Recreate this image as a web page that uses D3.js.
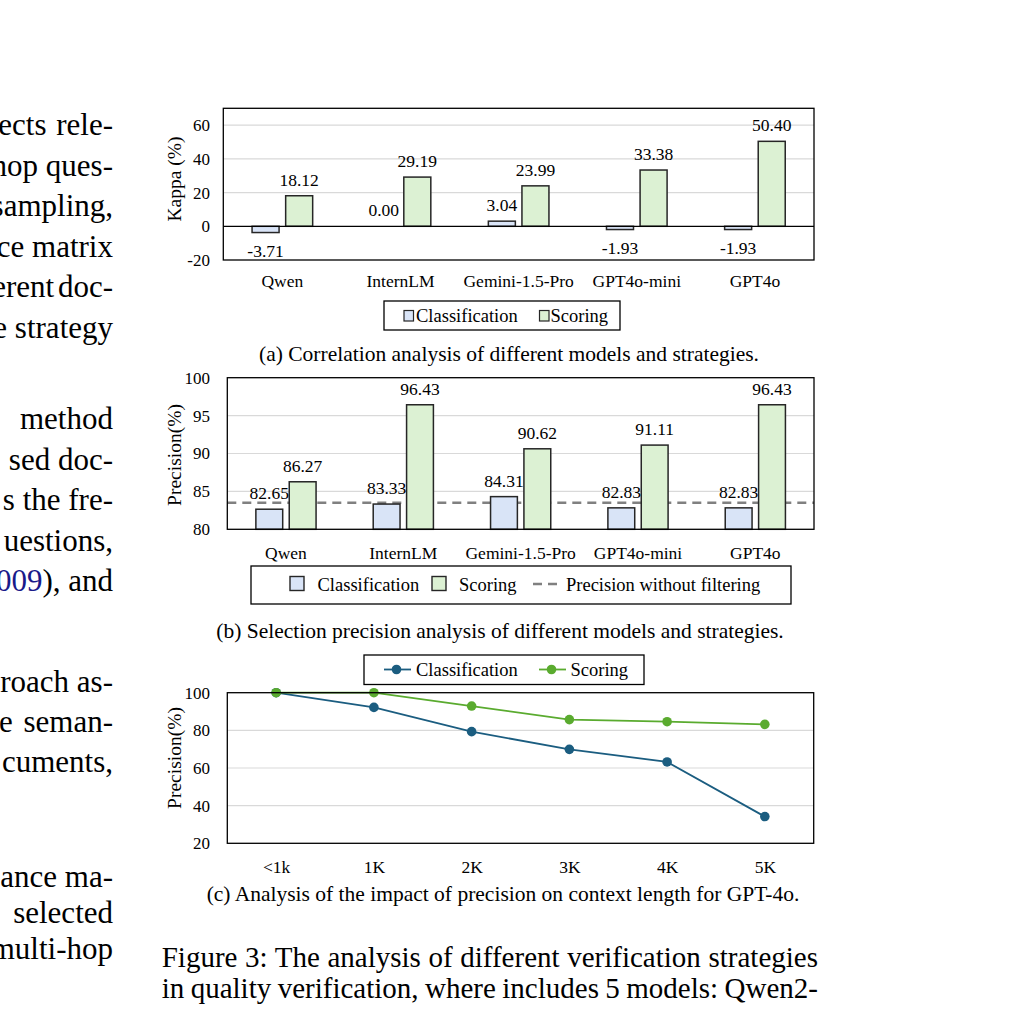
<!DOCTYPE html>
<html><head><meta charset="utf-8">
<script src="https://cdn.jsdelivr.net/npm/d3@7"></script>
<style>html,body{margin:0;padding:0;background:#fff;overflow:hidden}</style>
</head><body>
<svg id="c" width="1031" height="1015"></svg>
<script>
// ---------- data ----------
const models = ["Qwen", "InternLM", "Gemini-1.5-Pro", "GPT4o-mini", "GPT4o"];
const seriesNames = ["Classification", "Scoring"];
const kappaClassification = [-3.71, 0.00, 3.04, -1.93, -1.93];
const kappaScoring = [18.12, 29.19, 23.99, 33.38, 50.40];
const kappaTicks = [-20, 0, 20, 40, 60];
const precisionClassification = [82.65, 83.33, 84.31, 82.83, 82.83];
const precisionScoring = [86.27, 96.43, 90.62, 91.11, 96.43];
const precisionWithoutFiltering = 83.5;
const precisionTicks = [80, 85, 90, 95, 100];
const contextLengths = ["<1k", "1K", "2K", "3K", "4K", "5K"];
const contextClassification = [100, 92.2, 79.3, 69.9, 63.2, 34.2];
const contextScoring = [100, 100, 92.9, 85.7, 84.6, 83.2];
const contextTicks = [20, 40, 60, 80, 100];
const subCaptions = [
  "(a) Correlation analysis of different models and strategies.",
  "(b) Selection precision analysis of different models and strategies.",
  "(c) Analysis of the impact of precision on context length for GPT-4o."
];
const figureCaption = [
  "Figure 3: The analysis of different verification strategies",
  "in quality verification, where includes 5 models: Qwen2-"
];
const bodyLines = ["ects rele-", "hop ques-", "sampling,", "ce matrix", "erent doc-", "e strategy",
  "method", "sed doc-", "s the fre-", "uestions,", "2009), and",
  "roach as-", "e seman-", "cuments,",
  "ance ma-", "selected", "multi-hop"];

// ---------- styles ----------
const serif = '"Liberation Serif","Times New Roman",Times,serif';
const barFill = {Classification: "#d9e4f7", Scoring: "#dcf1d3"};
const lineColor = {Classification: "#1b5d80", Scoring: "#5aab2f"};
const svg = d3.select("#c");
const fmtTick = d => String(d);

function stext(parent, x, y, str, size, anchor, rot) {
  return parent.append("text")
    .attr("transform", `translate(${x},${y})` + (rot ? ` rotate(${rot})` : ""))
    .attr("text-anchor", anchor || "start")
    .attr("font-family", serif).attr("font-size", size).attr("fill", "#000")
    .text(str);
}

// ---------- body text (left column, clipped by page edge) ----------
const bodyBaselines = [135, 175.6, 216.2, 256.8, 297.4, 338,
  429, 469.5, 510, 550.5, 591,
  692, 732, 772,
  886.7, 923, 959.3];
const bodySpacing = {"erent doc-": -4, "ects rele-": 2, "e seman-": 3};
const body = svg.append("g").attr("font-family", serif).attr("font-size", 31).attr("fill", "#000");
bodyLines.forEach((line, i) => {
  const t = body.append("text").attr("x", 113).attr("y", bodyBaselines[i]).attr("text-anchor", "end");
  if (bodySpacing[line] !== undefined) t.attr("word-spacing", bodySpacing[line]);
  if (line.startsWith("2009")) {
    t.append("tspan").attr("fill", "#1a1a8a").text("2009");
    t.append("tspan").text(line.slice(4));
  } else t.text(line);
});

// ---------- bar chart helper ----------
function barChart(cfg) {
  const g = svg.append("g");
  const x0 = d3.scaleBand().domain(models).range([cfg.left, cfg.right]).paddingInner(0.487).paddingOuter(0.2435);
  const x1 = d3.scaleBand().domain(seriesNames).range([0, x0.bandwidth()]).paddingInner(0.196);
  const y = d3.scaleLinear().domain(cfg.domain).range([cfg.bottom, cfg.top]);
  const base = cfg.domain[0] < 0 ? 0 : cfg.domain[0];

  g.append("g").selectAll("line").data(cfg.grid).join("line")
    .attr("x1", cfg.left).attr("x2", cfg.right)
    .attr("y1", d => y(d)).attr("y2", d => y(d))
    .attr("stroke", "#d9d9d9").attr("stroke-width", 1.2);

  const ya = g.append("g").attr("transform", `translate(${cfg.left},0)`)
    .call(d3.axisLeft(y).tickValues(cfg.ticks).tickSize(0).tickPadding(cfg.left - 210).tickFormat(fmtTick));
  ya.select(".domain").remove();
  ya.attr("font-family", serif).attr("font-size", 17);
  ya.selectAll("text").attr("fill", "#000");

  const xa = g.append("g").attr("transform", `translate(0,${cfg.bottom})`)
    .call(d3.axisBottom(x0).tickSize(0).tickPadding(cfg.xPad));
  xa.select(".domain").remove();
  xa.attr("font-family", serif).attr("font-size", 17.5);
  xa.selectAll("text").attr("fill", "#000");

  if (cfg.refLine !== undefined) {
    g.append("line").attr("x1", cfg.left).attr("x2", cfg.right)
      .attr("y1", y(cfg.refLine)).attr("y2", y(cfg.refLine))
      .attr("stroke", "#808080").attr("stroke-width", 2.5).attr("stroke-dasharray", "9,6");
  }

  const rows = models.map((m, i) => ({model: m, vals: [
    {s: seriesNames[0], v: cfg.cls[i]}, {s: seriesNames[1], v: cfg.sc[i]}]}));
  const grp = g.append("g").selectAll("g").data(rows).join("g")
    .attr("transform", d => `translate(${x0(d.model)},0)`);
  grp.selectAll("rect").data(d => d.vals).join("rect")
    .attr("x", d => x1(d.s)).attr("width", x1.bandwidth())
    .attr("y", d => y(Math.max(d.v, base)))
    .attr("height", d => Math.abs(y(d.v) - y(base)))
    .attr("fill", d => barFill[d.s]).attr("stroke", "#262626").attr("stroke-width", 1.5);
  grp.selectAll("text").data(d => d.vals).join("text")
    .attr("x", d => x1(d.s) + x1.bandwidth() / 2)
    .attr("y", d => d.v >= base ? y(d.v) - 10 : y(d.v) + 24)
    .attr("text-anchor", "middle").attr("font-family", serif).attr("font-size", 17.5).attr("fill", "#000")
    .text(d => d.v.toFixed(2));

  if (cfg.domain[0] < 0) {
    g.append("line").attr("x1", cfg.left).attr("x2", cfg.right)
      .attr("y1", y(0)).attr("y2", y(0)).attr("stroke", "#000").attr("stroke-width", 1.3);
  }
  g.append("rect").attr("x", cfg.left).attr("y", cfg.top)
    .attr("width", cfg.right - cfg.left).attr("height", cfg.bottom - cfg.top)
    .attr("fill", "none").attr("stroke", "#000").attr("stroke-width", 1.3);

  stext(g, 181, cfg.titleY, cfg.title, 19.5, "middle", -90);
  return g;
}

// ---------- (a) ----------
barChart({left: 223.3, right: 814, top: 108.3, bottom: 260, domain: [-20, 70],
  ticks: kappaTicks, grid: [20, 40, 60], cls: kappaClassification, sc: kappaScoring,
  xPad: 15, title: "Kappa (%)", titleY: 179});
{
  const lg = svg.append("g").attr("font-family", serif).attr("font-size", 18.5);
  lg.append("rect").attr("x", 384).attr("y", 301).attr("width", 236).attr("height", 29)
    .attr("fill", "#fff").attr("stroke", "#000").attr("stroke-width", 1.3);
  const items = [{s: "Classification", sx: 404, tx: 416}, {s: "Scoring", sx: 539.5, tx: 550.5}];
  items.forEach(it => {
    lg.append("rect").attr("x", it.sx).attr("y", 310.5).attr("width", 9.5).attr("height", 10.5)
      .attr("fill", barFill[it.s]).attr("stroke", "#262626").attr("stroke-width", 1.2);
    lg.append("text").attr("x", it.tx).attr("y", 322).attr("fill", "#000").text(it.s);
  });
}

// ---------- (b) ----------
barChart({left: 227.3, right: 814, top: 377.7, bottom: 529.3, domain: [80, 100],
  ticks: precisionTicks, grid: [85, 90, 95], cls: precisionClassification, sc: precisionScoring,
  refLine: precisionWithoutFiltering, xPad: 17, title: "Precision(%)", titleY: 455});
{
  const lg = svg.append("g").attr("font-family", serif).attr("font-size", 18.5);
  lg.append("rect").attr("x", 251).attr("y", 566).attr("width", 540).attr("height", 38)
    .attr("fill", "#fff").attr("stroke", "#000").attr("stroke-width", 1.3);
  const items = [{s: "Classification", sx: 290, tx: 317.5}, {s: "Scoring", sx: 432, tx: 459}];
  items.forEach(it => {
    lg.append("rect").attr("x", it.sx).attr("y", 576.5).attr("width", 14).attr("height", 14)
      .attr("fill", barFill[it.s]).attr("stroke", "#262626").attr("stroke-width", 1.4);
    lg.append("text").attr("x", it.tx).attr("y", 591).attr("fill", "#000").text(it.s);
  });
  lg.append("line").attr("x1", 533).attr("x2", 560).attr("y1", 584).attr("y2", 584)
    .attr("stroke", "#808080").attr("stroke-width", 2.5).attr("stroke-dasharray", "9,6");
  lg.append("text").attr("x", 566).attr("y", 591).attr("fill", "#000").text("Precision without filtering");
}

// ---------- (c) line chart ----------
{
  const left = 227.3, right = 813.7, top = 692.7, bottom = 843.3;
  const g = svg.append("g");
  const x = d3.scalePoint().domain(contextLengths).range([left, right]).padding(0.5);
  const y = d3.scaleLinear().domain([20, 100]).range([bottom, top]);
  g.append("g").selectAll("line").data([40, 60, 80]).join("line")
    .attr("x1", left).attr("x2", right).attr("y1", d => y(d)).attr("y2", d => y(d))
    .attr("stroke", "#d9d9d9").attr("stroke-width", 1.2);
  const ya = g.append("g").attr("transform", `translate(${left},0)`)
    .call(d3.axisLeft(y).tickValues(contextTicks).tickSize(0).tickPadding(left - 210).tickFormat(fmtTick));
  ya.select(".domain").remove();
  ya.attr("font-family", serif).attr("font-size", 17);
  ya.selectAll("text").attr("fill", "#000");
  const xa = g.append("g").attr("transform", `translate(0,${bottom})`)
    .call(d3.axisBottom(x).tickSize(0).tickPadding(17));
  xa.select(".domain").remove();
  xa.attr("font-family", serif).attr("font-size", 17.5);
  xa.selectAll("text").attr("fill", "#000");

  const series = [
    {s: "Classification", vals: contextClassification},
    {s: "Scoring", vals: contextScoring}];
  const line = d3.line().x((d, i) => x(contextLengths[i])).y(d => y(d));
  series.forEach(se => {
    g.append("path").attr("d", line(se.vals)).attr("fill", "none")
      .attr("stroke", lineColor[se.s]).attr("stroke-width", 1.8);
    g.append("g").selectAll("circle").data(se.vals).join("circle")
      .attr("cx", (d, i) => x(contextLengths[i])).attr("cy", d => y(d)).attr("r", 4.8)
      .attr("fill", lineColor[se.s]);
  });
  g.append("rect").attr("x", left).attr("y", top).attr("width", right - left).attr("height", bottom - top)
    .attr("fill", "none").attr("stroke", "#000").attr("stroke-width", 1.3);
  stext(g, 181, 758, "Precision(%)", 19.5, "middle", -90);

  const lg = svg.append("g").attr("font-family", serif).attr("font-size", 18.5);
  lg.append("rect").attr("x", 364).attr("y", 655).attr("width", 280).attr("height", 29.5)
    .attr("fill", "#fff").attr("stroke", "#000").attr("stroke-width", 1.3);
  const items = [{s: "Classification", lx: 384, tx: 416}, {s: "Scoring", lx: 539, tx: 570.5}];
  items.forEach(it => {
    lg.append("line").attr("x1", it.lx).attr("x2", it.lx + 27).attr("y1", 669.5).attr("y2", 669.5)
      .attr("stroke", lineColor[it.s]).attr("stroke-width", 1.8);
    lg.append("circle").attr("cx", it.lx + 12.5).attr("cy", 669.5).attr("r", 4.8).attr("fill", lineColor[it.s]);
    lg.append("text").attr("x", it.tx).attr("y", 676).attr("fill", "#000").text(it.s);
  });
}

// ---------- sub captions ----------
const capPos = [{x: 509, y: 361}, {x: 500, y: 638}, {x: 503, y: 901}];
subCaptions.forEach((c, i) => {
  stext(svg, capPos[i].x, capPos[i].y, c, 21.5, "middle");
});

// ---------- figure caption (justified) ----------
const figY = [966.7, 998];
figureCaption.forEach((c, i) => {
  const t = stext(svg, 161.7, figY[i], c, 29, "start");
  const len = t.node().getComputedTextLength();
  const spaces = (c.match(/ /g) || []).length;
  const target = 818 - 161.7;
  if (spaces > 0) t.attr("word-spacing", (target - len) / spaces);
});
</script>
</body></html>
